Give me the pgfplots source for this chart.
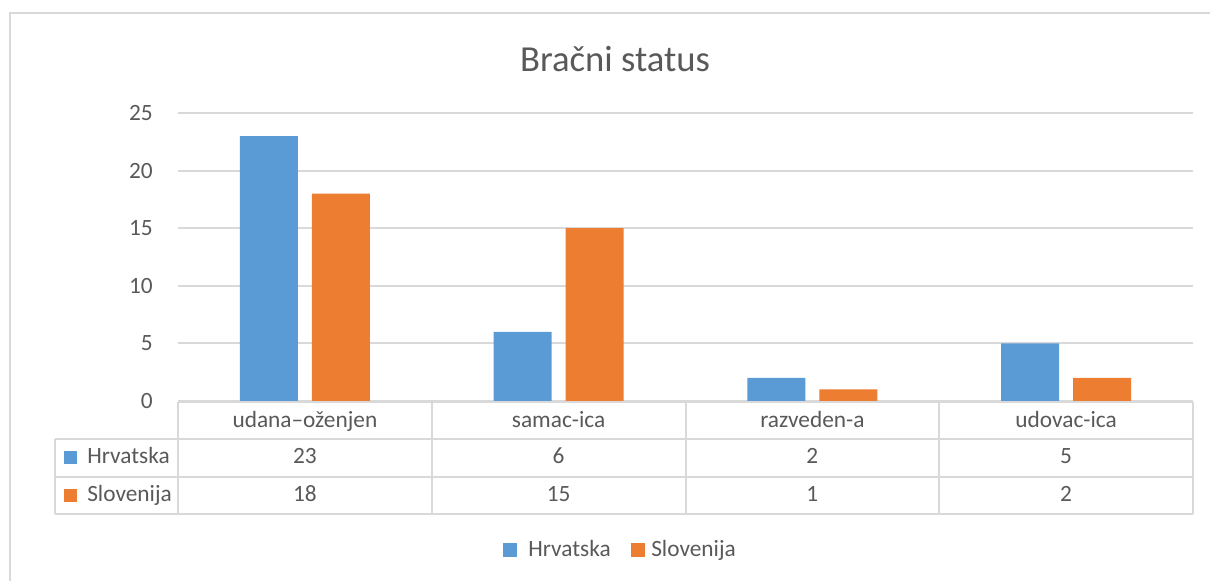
\documentclass[border=0pt]{standalone}
\usepackage{pgfplots}
\pgfplotsset{compat=1.18}
\usepackage{fontspec}
\setmainfont{Carlito}
\definecolor{hrv}{HTML}{5B9BD5}
\definecolor{slo}{HTML}{ED7D31}
\definecolor{txt}{HTML}{595959}
\definecolor{grd}{HTML}{D9D9D9}
\begin{document}
\begin{tikzpicture}
\begin{scope}[x=0.75pt,y=-0.75pt]
\path[use as bounding box] (0,0) rectangle (1210,581);
\draw[grd, line width=1.5pt] (10,583) -- (10,13) -- (1212,13);
\end{scope}
\begin{axis}[
  at={(133.5pt,-300.75pt)}, anchor=south west,
  scale only axis, width=761.25pt, height=216pt,
  xmin=-0.5, xmax=3.5, ymin=0, ymax=25,
  ytick={0,5,...,25}, xtick=\empty,
  ymajorgrids, grid style={grd, line width=1.5pt},
  axis line style={draw=none}, major tick length=0pt,
  yticklabel style={font=\fontsize{17.5}{21}\selectfont, text=txt, inner sep=0pt, xshift=-18.75pt},
  /pgf/number format/assume math mode=true,
  ybar=10.5pt, bar width=43.5pt,
  clip=false,
]
\addplot[fill=hrv, draw=none] coordinates {(0,23) (1,6) (2,2) (3,5)};
\addplot[fill=slo, draw=none] coordinates {(0,18) (1,15) (2,1) (3,2)};
\end{axis}
\begin{scope}[x=0.75pt,y=-0.75pt, every node/.style={font=\fontsize{17.5}{21}\selectfont, text=txt, inner sep=0pt}]
\draw[grd, line width=1.5pt] (178,401.5) -- (1193,401.5);
\draw[grd, line width=1.5pt] (55,439) -- (1193,439);
\draw[grd, line width=1.5pt] (55,476.5) -- (1193,476.5);
\draw[grd, line width=1.5pt] (55,514) -- (1193,514);
\draw[grd, line width=1.5pt] (55,439) -- (55,514);
\foreach \xx in {178,431.75,685.5,939.25,1193} \draw[grd, line width=1.5pt] (\xx,401.5) -- (\xx,514);
\foreach \cx/\cn/\h/\s in {304.9/udana–oženjen/23/18, 558.6/samac-ica/6/15, 812.4/razveden-a/2/1, 1066.1/udovac-ica/5/2}{
  \node[anchor=base] at (\cx,427) {\cn};
  \node[anchor=base] at (\cx,463.5) {\h};
  \node[anchor=base] at (\cx,501.5) {\s};
}
\fill[hrv] (63.5,451) rectangle (76.5,464);
\fill[slo] (63.5,489) rectangle (76.5,502);
\node[anchor=base west] at (87,463.5) {Hrvatska};
\node[anchor=base west] at (87,501.5) {Slovenija};
\node[anchor=base, font=\fontsize{27.5}{33}\selectfont] at (615,72) {Bračni status};
\fill[hrv] (503,543) rectangle (517,557);
\node[anchor=base west] at (528,556) {Hrvatska};
\fill[slo] (631,543) rectangle (645,557);
\node[anchor=base west] at (651,556) {Slovenija};
\end{scope}
\end{tikzpicture}
\end{document}
